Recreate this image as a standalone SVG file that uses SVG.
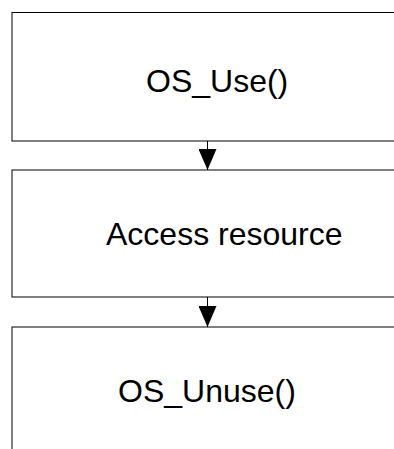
<svg xmlns="http://www.w3.org/2000/svg" width="394" height="449" viewBox="0 0 394 449">
<style>
.box{fill:#fff;stroke:#000;stroke-width:1}
.lbl{font-family:"Liberation Sans",Arial,sans-serif;font-size:32px;fill:#000}
.edge{stroke:#000;stroke-width:1;fill:none}
</style>
<defs>
<marker id="arr" markerUnits="userSpaceOnUse" markerWidth="21" markerHeight="18" refX="21" refY="9" orient="auto" viewBox="0 0 21 18">
<path d="M0,0 L21,9 L0,18 Z" fill="#000"/>
</marker>
</defs>
<rect width="394" height="449" fill="#fff"/>
<g id="node-use">
<rect class="box" x="12" y="12.5" width="400" height="128.5"/>
<text class="lbl" x="146" y="92">OS_Use()</text>
</g>
<g id="node-access">
<rect class="box" x="12" y="170" width="400" height="127"/>
<text class="lbl" x="106" y="245">Access resource</text>
</g>
<g id="node-unuse">
<rect class="box" x="12" y="327" width="400" height="140"/>
<text class="lbl" x="118" y="402">OS_Unuse()</text>
</g>
<g id="connectors">
<path class="edge" d="M207.5,141 L207.5,170" marker-end="url(#arr)"/>
<path class="edge" d="M207.5,297 L207.5,327" marker-end="url(#arr)"/>
</g>
</svg>
